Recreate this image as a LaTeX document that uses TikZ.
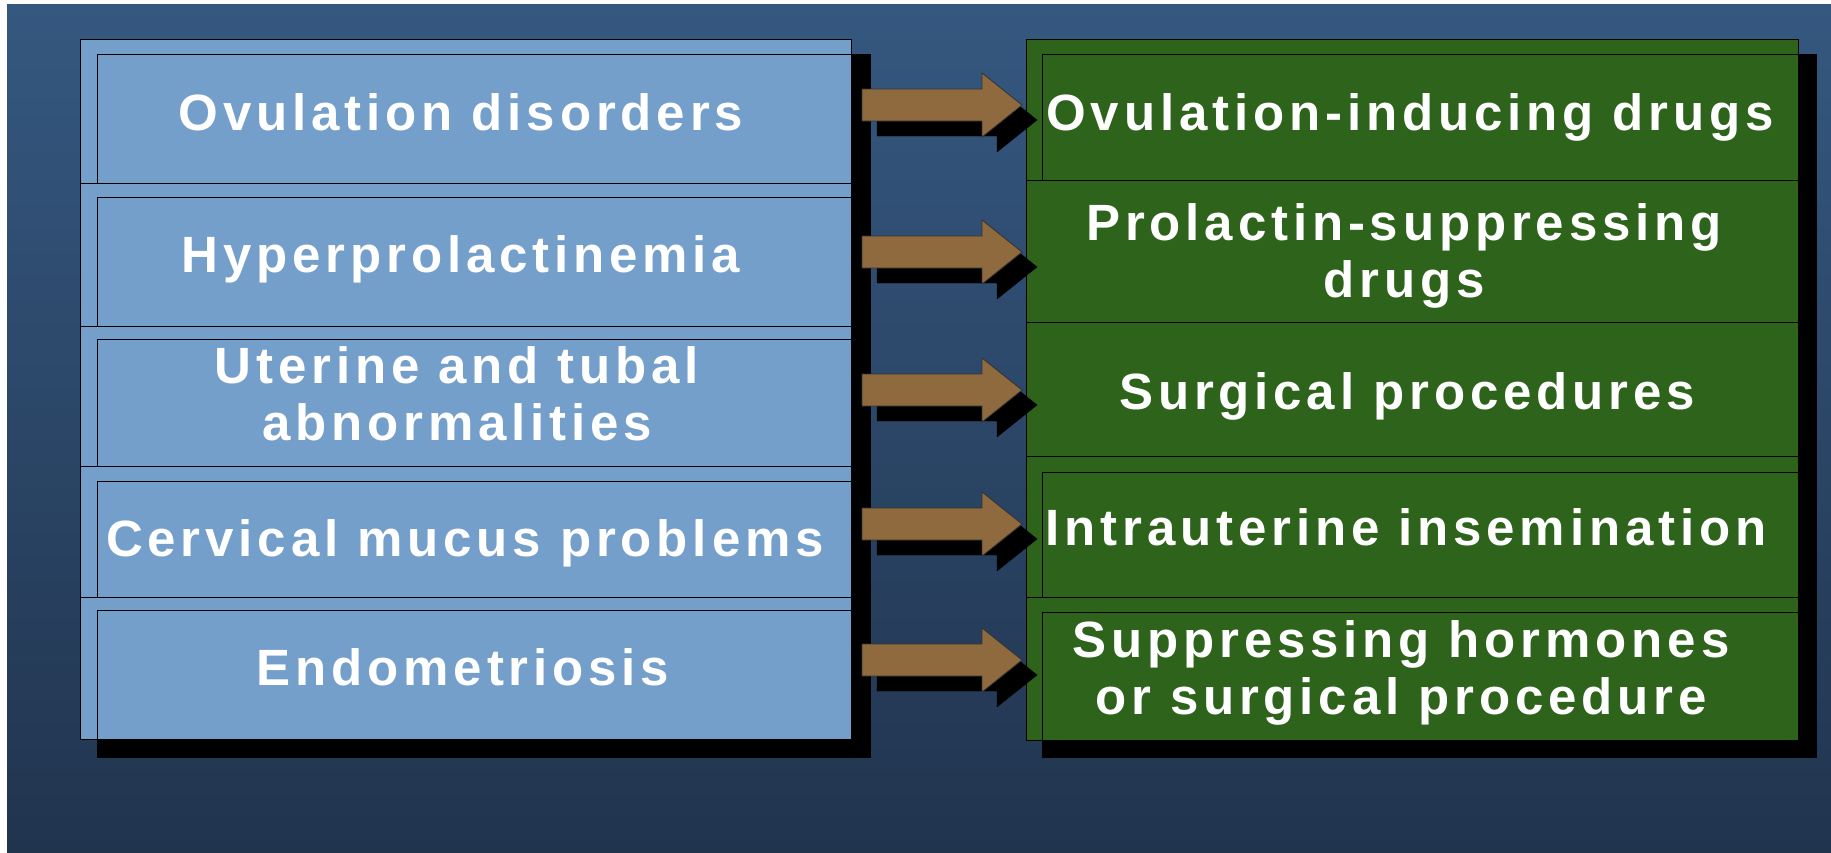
\documentclass[tikz,border=0pt]{standalone}
\usepackage{fontspec}
\setmainfont{Liberation Sans}
\newfontfamily\slidefont[LetterSpace=9.5]{Liberation Sans}
\usetikzlibrary{calc}

\definecolor{bgtop}{HTML}{355880}
\definecolor{bgbottom}{HTML}{21344E}
\definecolor{causeblue}{HTML}{749FCB}
\definecolor{curegreen}{HTML}{2D631A}
\definecolor{arrowbrown}{HTML}{8F6A3E}

\pgfdeclarelayer{bg}
\pgfdeclarelayer{shadow}
\pgfsetlayers{bg,shadow,main}

% block arrow: style, start, target, offset
\newcommand{\linkarrow}[4]{%
  \draw[#1] ($(#2)+(#4,#4)+(0,-16)$) -- ($(#3 |- #2)+(#4,#4)+(-44,-16)$)
    -- ++(0,-16) -- ($(#3 |- #2)+(#4,#4)+(-4,0)$) -- ++(-40,32) -- ++(0,-16)
    -- ($(#2)+(#4,#4)+(0,16)$) -- cycle;}

\begin{document}
\begin{tikzpicture}[x=1pt,y=-1pt,
  cause/.style={draw=black,line width=1.3pt,fill=causeblue,anchor=north west,inner sep=0pt},
  cure/.style={cause,fill=curegreen},
  boxtext/.style={text=white,anchor=base,align=center,
    font=\slidefont\bfseries\fontsize{51}{57}\selectfont}]
\useasboundingbox (0,0) rectangle (1831,852);
\begin{pgfonlayer}{bg}
\shade[top color=bgtop,bottom color=bgbottom] (7,4) rectangle (1831,852);
\end{pgfonlayer}

% causes
\node[cause,minimum width=771,minimum height=144] (l1o) at (80,39) {};
\node[cause,minimum width=754,minimum height=129] (l1i) at (97,54) {};
\node[cause,minimum width=771,minimum height=143] (l2o) at (80,183) {};
\node[cause,minimum width=754,minimum height=129] (l2i) at (97,197) {};
\node[cause,minimum width=771,minimum height=140] (l3o) at (80,326) {};
\node[cause,minimum width=754,minimum height=127] (l3i) at (97,339) {};
\node[cause,minimum width=771,minimum height=131] (l4o) at (80,466) {};
\node[cause,minimum width=754,minimum height=116] (l4i) at (97,481) {};
\node[cause,minimum width=771,minimum height=142] (l5o) at (80,597) {};
\node[cause,minimum width=754,minimum height=129] (l5i) at (97,610) {};

% treatments
\node[cure,minimum width=772,minimum height=141] (r1o) at (1026,39) {};
\node[cure,minimum width=756,minimum height=126] (r1i) at (1042,54) {};
\node[cure,minimum width=772,minimum height=142] (r2o) at (1026,180) {};
\node[cure,minimum width=772,minimum height=134] (r3o) at (1026,322) {};
\node[cure,minimum width=772,minimum height=141] (r4o) at (1026,456) {};
\node[cure,minimum width=756,minimum height=125] (r4i) at (1042,472) {};
\node[cure,minimum width=772,minimum height=143] (r5o) at (1026,597) {};
\node[cure,minimum width=756,minimum height=128] (r5i) at (1042,612) {};

% drop shadows
\begin{pgfonlayer}{shadow}
\fill (l1i.north west) rectangle ($(l5i.south east)+(19,18)$);
\fill (r1i.north west) rectangle ($(r5i.south east)+(18,17)$);
\end{pgfonlayer}

% arrows
\node[coordinate] (a1) at (862,105) {};
\node[coordinate] (a2) at (862,252) {};
\node[coordinate] (a3) at (862,390) {};
\node[coordinate] (a4) at (862,524) {};
\node[coordinate] (a5) at (862,660) {};
\foreach \i in {1,...,5} {
  \linkarrow{fill=black}{a\i}{r\i o.west}{15}
  \linkarrow{fill=arrowbrown,draw=black!80,line width=0.8pt}{a\i}{r\i o.west}{0}
}

% labels (base = last line)
\node[boxtext] (tl1) at (461,130) {Ovulation disorders};
\node[boxtext] (tl2) at (461,272) {Hyperprolactinemia};
\node[boxtext] (tl3) at (457,440) {Uterine and tubal\\abnormalities};
\node[boxtext] (tl4) at (465,556) {Cervical mucus problems};
\node[boxtext] (tl5) at (463,685) {Endometriosis};
\node[boxtext] (tr1) at (1410,130) {Ovulation-inducing drugs};
\node[boxtext] (tr2) at (1404,297) {Prolactin-suppressing\\drugs};
\node[boxtext] (tr3) at (1407,409) {Surgical procedures};
\node[boxtext] (tr4) at (1406,545) {Intrauterine insemination};
\node[boxtext] (tr5) at (1401,714) {Suppressing hormones\\or surgical procedure};
\end{tikzpicture}
\end{document}
